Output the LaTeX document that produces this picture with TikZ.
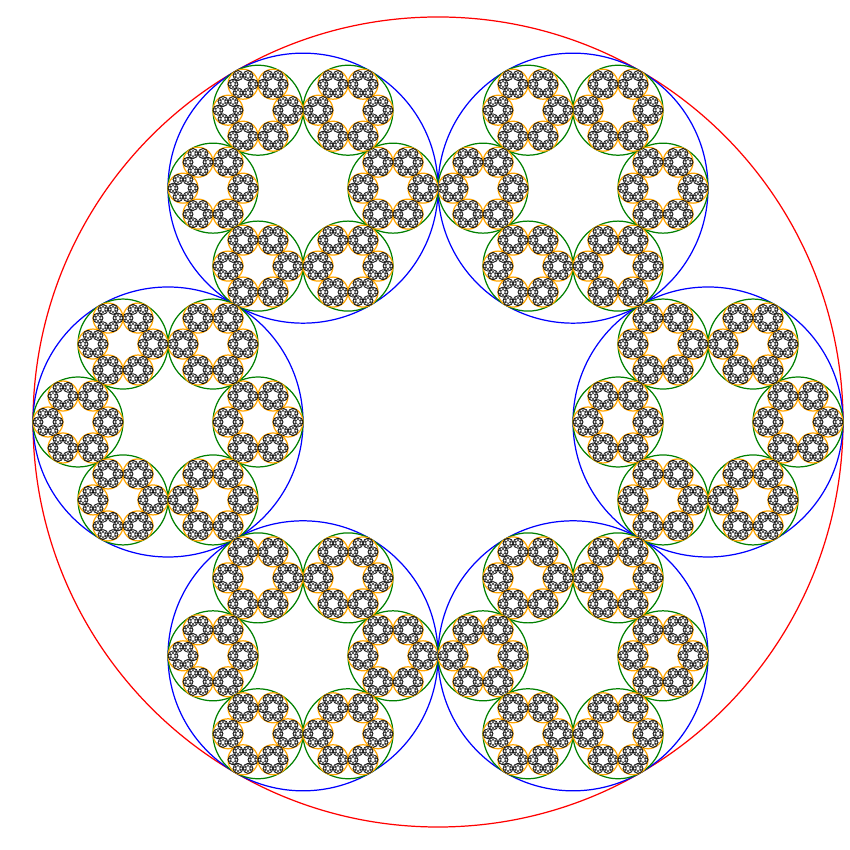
\documentclass[tikz,border=0pt]{standalone}
\usepackage{tikz}
\definecolor{ringred}{RGB}{255,0,0}
\definecolor{ringblue}{RGB}{0,0,255}
\definecolor{ringgreen}{RGB}{0,128,0}
\definecolor{ringorange}{RGB}{255,165,0}
\begin{document}
\begin{tikzpicture}[
    lvla/.style={draw=ringred, line width=0.35pt},
    lvlb/.style={draw=ringblue, line width=0.35pt},
    lvlc/.style={draw=ringgreen, line width=0.35pt},
    lvld/.style={draw=ringorange, line width=0.35pt},
    lvle/.style={draw=black, line width=0.2pt},
    lvlf/.style={draw=black!80, line width=0.15pt}
]
\useasboundingbox (-4.38,-4.28) rectangle (4.12,4.22);
% outer ring
\draw[lvla] (0,0) circle (4.05);
\foreach \a in {0,60,...,300}{
  \begin{scope}[shift={(\a:2.7)}]
    \draw[lvlb] (0,0) circle (1.35);
    \foreach \b in {0,60,...,300}{
      \begin{scope}[shift={(\b:0.9)}]
        \draw[lvlc] (0,0) circle (0.45);
        \foreach \c in {0,60,...,300}{
          \begin{scope}[shift={(\c:0.3)}]
            \draw[lvld] (0,0) circle (0.15);
            \foreach \d in {0,60,...,300}{
              \begin{scope}[shift={(\d:0.1)}]
                \draw[lvle] (0,0) circle (0.05);
                \draw[lvlf] \foreach \e in {0,60,...,300}{(\e:0.03333) circle (0.016667)};
              \end{scope}
            }
          \end{scope}
        }
      \end{scope}
    }
  \end{scope}
}
\end{tikzpicture}
\end{document}
